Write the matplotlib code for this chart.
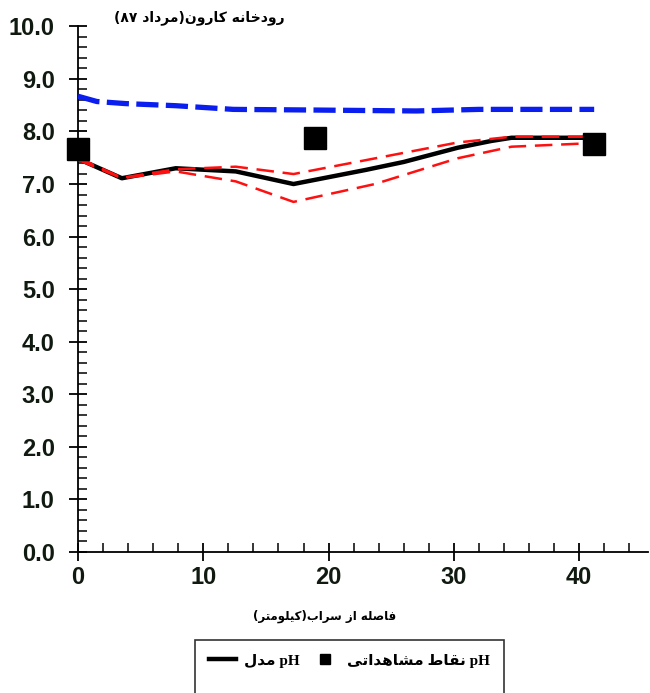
import re
import matplotlib
matplotlib.use("Agg")
import matplotlib.pyplot as plt
from matplotlib.lines import Line2D
from matplotlib.ticker import MultipleLocator, FormatStrFormatter

# --- Data: distance from Sarab (km) vs pH ---
model_km = [0, 3.5, 7.8, 12.6, 17.2, 23, 26, 30.3, 33, 34.6, 41.2]
model_ph = [7.48, 7.11, 7.30, 7.24, 7.00, 7.27, 7.42, 7.69, 7.82, 7.88, 7.88]

upper_km = [0, 3.5, 7.8, 12.6, 17.2, 30.3, 34.6, 41.2]
upper_ph = [7.50, 7.12, 7.28, 7.33, 7.19, 7.79, 7.90, 7.90]

lower_km = [0, 3.5, 7.8, 12.6, 17.2, 23.7, 30.3, 34.6, 41.2]
lower_ph = [7.46, 7.11, 7.24, 7.05, 6.66, 7.00, 7.49, 7.71, 7.78]

sat_km = [0, 1.5, 3.8, 7.8, 12.4, 17.7, 27, 32, 41.2]
sat_ph = [8.67, 8.57, 8.53, 8.49, 8.42, 8.41, 8.39, 8.42, 8.42]

obs_km = [0, 18.9, 41.2]
obs_ph = [7.67, 7.88, 7.77]

TITLE = "رودخانه کارون(مرداد ۸۷)"
XLABEL = "فاصله از سراب(کیلومتر)"
LEG_MODEL = "pH مدل"
LEG_OBS = "pH نقاط مشاهداتی"

# --- minimal Persian shaping (no raqm in matplotlib) ---
# isolated, final, initial, medial
FORMS = {
    'ا': (0xFE8D, 0xFE8E, None, None),
    'ب': (0xFE8F, 0xFE90, 0xFE91, 0xFE92),
    'پ': (0xFB56, 0xFB57, 0xFB58, 0xFB59),
    'ت': (0xFE95, 0xFE96, 0xFE97, 0xFE98),
    'خ': (0xFEA5, 0xFEA6, 0xFEA7, 0xFEA8),
    'د': (0xFEA9, 0xFEAA, None, None),
    'ر': (0xFEAD, 0xFEAE, None, None),
    'ز': (0xFEAF, 0xFEB0, None, None),
    'س': (0xFEB1, 0xFEB2, 0xFEB3, 0xFEB4),
    'ش': (0xFEB5, 0xFEB6, 0xFEB7, 0xFEB8),
    'ص': (0xFEB9, 0xFEBA, 0xFEBB, 0xFEBC),
    'ط': (0xFEC1, 0xFEC2, 0xFEC3, 0xFEC4),
    'ف': (0xFED1, 0xFED2, 0xFED3, 0xFED4),
    'ق': (0xFED5, 0xFED6, 0xFED7, 0xFED8),
    'ک': (0xFB8E, 0xFB8F, 0xFB90, 0xFB91),
    'ل': (0xFEDD, 0xFEDE, 0xFEDF, 0xFEE0),
    'م': (0xFEE1, 0xFEE2, 0xFEE3, 0xFEE4),
    'ن': (0xFEE5, 0xFEE6, 0xFEE7, 0xFEE8),
    'ه': (0xFEE9, 0xFEEA, 0xFEEB, 0xFEEC),
    'و': (0xFEED, 0xFEEE, None, None),
    'ی': (0xFBFC, 0xFBFD, 0xFBFE, 0xFBFF),
}


def shape(text):
    out = []
    for i, ch in enumerate(text):
        if ch not in FORMS:
            out.append(ch)
            continue
        iso, fin, ini, med = FORMS[ch]
        prev = text[i - 1] if i > 0 else ''
        nxt = text[i + 1] if i + 1 < len(text) else ''
        jp = prev in FORMS and FORMS[prev][2] is not None
        jn = ini is not None and nxt in FORMS
        if jp and jn:
            out.append(chr(med))
        elif jp:
            out.append(chr(fin))
        elif jn:
            out.append(chr(ini))
        else:
            out.append(chr(iso))
    # visual order: reverse, keep LTR runs, mirror brackets
    s = ''.join(out)[::-1]
    s = re.sub(r'[A-Za-z0-9۰-۹.]+', lambda m: m.group(0)[::-1], s)
    return s.translate(str.maketrans('()', ')('))


AR_FONT = ['DejaVu Sans']
NUM_FONT = ['Liberation Sans', 'DejaVu Sans']

fig = plt.figure(figsize=(6.5, 6.93), dpi=100)
ax = fig.add_axes([0.12, 0.2035, 0.877, 0.7585])

ax.plot(model_km, model_ph, color='black', lw=3.2, zorder=3)
ax.plot(upper_km, upper_ph, color='#ff1010', lw=1.8, dashes=(7, 3.5), zorder=4)
ax.plot(lower_km, lower_ph, color='#ff1010', lw=1.8, dashes=(7, 3.5), zorder=4)
ax.plot(sat_km, sat_ph, color='#0a1ef0', lw=3.8, dashes=(4.2, 1.4), zorder=3)
ax.plot(obs_km, obs_ph, ls='none', marker='s', ms=16.5, color='black',
        zorder=5, clip_on=False)

ax.set_xlim(0, 45.5)
ax.set_ylim(0, 10)
for side in ('top', 'right'):
    ax.spines[side].set_visible(False)
for side in ('left', 'bottom'):
    ax.spines[side].set_linewidth(1.3)

ax.xaxis.set_major_locator(MultipleLocator(10))
ax.xaxis.set_minor_locator(MultipleLocator(2))
ax.yaxis.set_major_locator(MultipleLocator(1))
ax.yaxis.set_minor_locator(MultipleLocator(0.2))
ax.yaxis.set_major_formatter(FormatStrFormatter('%.1f'))
ax.tick_params(which='major', direction='inout', length=13.5, width=1.3)
ax.tick_params(which='minor', direction='in', length=6.5, width=1.1)
ax.tick_params(axis='y', which='major', pad=10)
ax.tick_params(axis='x', which='major', pad=3)
for lab in ax.get_xticklabels() + ax.get_yticklabels():
    lab.set_family(NUM_FONT)
    lab.set_fontweight('bold')
    lab.set_fontsize(17)
    lab.set_color('#101a10')

fig.text(0.438, 0.974, shape(TITLE), ha='right', va='center',
         family=AR_FONT, fontweight='bold', fontsize=10)
fig.text(0.5, 0.11, shape(XLABEL), ha='center', va='center',
         family=AR_FONT, fontweight='bold', fontsize=8.5)

handles = [Line2D([], [], color='black', lw=3.2),
           Line2D([], [], ls='none'),
           Line2D([], [], ls='none', marker='s', ms=7, color='black'),
           Line2D([], [], ls='none')]
labels = [shape(LEG_MODEL), ' ', shape(LEG_OBS), ' ']
leg = fig.legend(handles, labels, ncol=2, loc='upper left',
                 bbox_to_anchor=(0.3, 0.0765), borderaxespad=0,
                 frameon=True, fancybox=False,
                 edgecolor='black', handlelength=1.8, handletextpad=0.5,
                 columnspacing=0.8, borderpad=0.9, labelspacing=0.3,
                 prop={'family': ['Liberation Serif', 'DejaVu Sans'],
                       'weight': 'bold', 'size': 11})
leg.get_frame().set_linewidth(1.2)

fig.savefig('out.png', dpi=100)
